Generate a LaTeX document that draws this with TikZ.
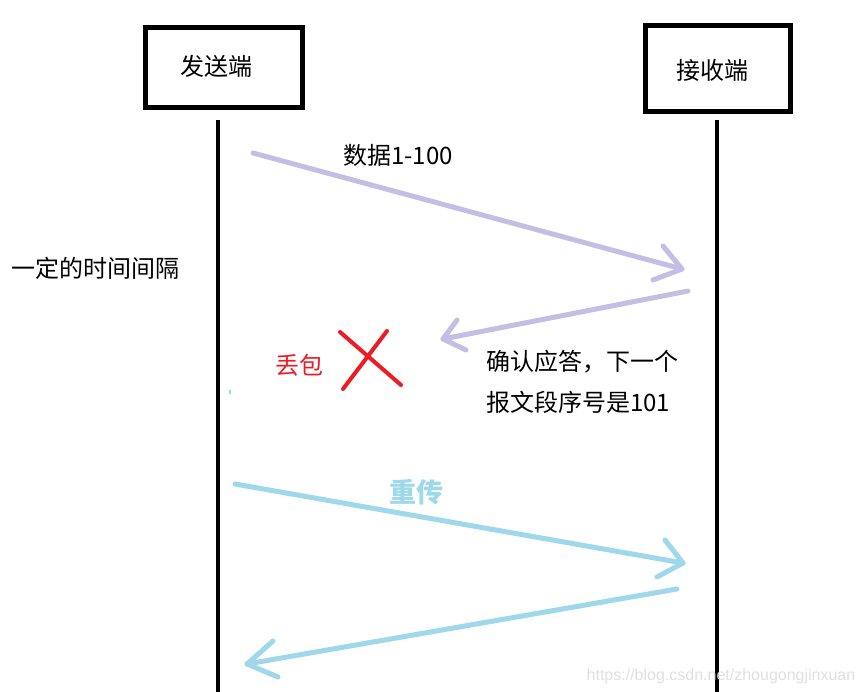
\documentclass[tikz,border=0pt]{standalone}
\usepackage{fontspec}
\setmainfont{Noto Sans CJK SC}
\newfontfamily\wmfont{Liberation Sans}
\definecolor{ackpurple}{RGB}{196,190,228}
\definecolor{retcyan}{RGB}{158,216,234}
\definecolor{lossred}{RGB}{237,28,36}
\begin{document}
\begin{tikzpicture}[x=1pt,y=-1pt,
  hostbox/.style={draw=black,line width=5pt,minimum width=157pt,minimum height=80pt,inner sep=0pt},
  lifeline/.style={line width=4pt,black},
  msgline/.style={line width=5pt,line cap=round,line join=round},
  lbl/.style={inner sep=0pt,font=\fontsize{24}{28}\selectfont}]
\useasboundingbox (0,0) rectangle (863,692);
\fill[white] (0,0) rectangle (863,692);
% hosts
\node[hostbox] (sender) at (224,67.5) {};
\node[lbl] (sendertext) at (216.5,66) {发送端};
\node[hostbox,minimum width=145pt,minimum height=86pt] (receiver) at (718,68.5) {};
\node[lbl] (receivertext) at (712,70) {接收端};
% lifelines
\coordinate (s0) at (218,120);
\coordinate (s1) at (218,692);
\coordinate (r0) at (717,120);
\coordinate (r1) at (717,692);
\draw[lifeline] (s0) -- (s1);
\draw[lifeline] (r0) -- (r1);
% message 1
\coordinate (m1a) at (253,153);
\coordinate (m1b) at (682,269);
\coordinate (m1h1) at (663,246);
\coordinate (m1h2) at (653,280);
\draw[msgline,ackpurple] (m1a) -- (m1b);
\draw[msgline,ackpurple] (m1h1) -- (m1b) -- (m1h2);
% ack
\coordinate (m2a) at (688,291);
\coordinate (m2b) at (443,339);
\coordinate (m2h1) at (457,320);
\coordinate (m2h2) at (466,350);
\draw[msgline,ackpurple] (m2a) -- (m2b);
\draw[msgline,ackpurple] (m2h1) -- (m2b) -- (m2h2);
% loss cross
\coordinate (x1a) at (340,332);
\coordinate (x1b) at (401,385);
\coordinate (x2a) at (387,331);
\coordinate (x2b) at (343,389);
\draw[line width=4pt,lossred,line cap=round] (x1a) -- (x1b);
\draw[line width=4pt,lossred,line cap=round] (x2a) -- (x2b);
% retransmit
\coordinate (m3a) at (235,484);
\coordinate (m3b) at (683,563);
\coordinate (m3h1) at (665,540);
\coordinate (m3h2) at (657,577);
\draw[msgline,retcyan] (m3a) -- (m3b);
\draw[msgline,retcyan] (m3h1) -- (m3b) -- (m3h2);
% ack 2
\coordinate (m4a) at (677,589);
\coordinate (m4b) at (247,664);
\coordinate (m4h1) at (273,641);
\coordinate (m4h2) at (278,677);
\draw[msgline,retcyan] (m4a) -- (m4b);
\draw[msgline,retcyan] (m4h1) -- (m4b) -- (m4h2);
% tiny mark
\coordinate (tk0) at (230,390);
\coordinate (tk1) at (230,394);
\draw[line width=1.5pt,retcyan] (tk0) -- (tk1);
% labels
\node[lbl] (data) at (398,155) {数据1-100};
\node[lbl] (interval) at (96,268) {一定的时间间隔};
\node[lbl,text=lossred] (loss) at (299,365) {丢包};
\node[lbl,align=left,anchor=west,font=\fontsize{24}{41}\selectfont] (acktext) at (486,382) {确认应答，下一个\\报文段序号是101};
\node[lbl,text=retcyan,font=\fontsize{27}{30}\selectfont\bfseries] (retx) at (416,492) {重传};
\node[inner sep=0pt,text=black!12,font=\wmfont\fontsize{16}{19}\selectfont] (wm) at (721,676) {https://blog.csdn.net/zhougongjinxuan};
\end{tikzpicture}
\end{document}
